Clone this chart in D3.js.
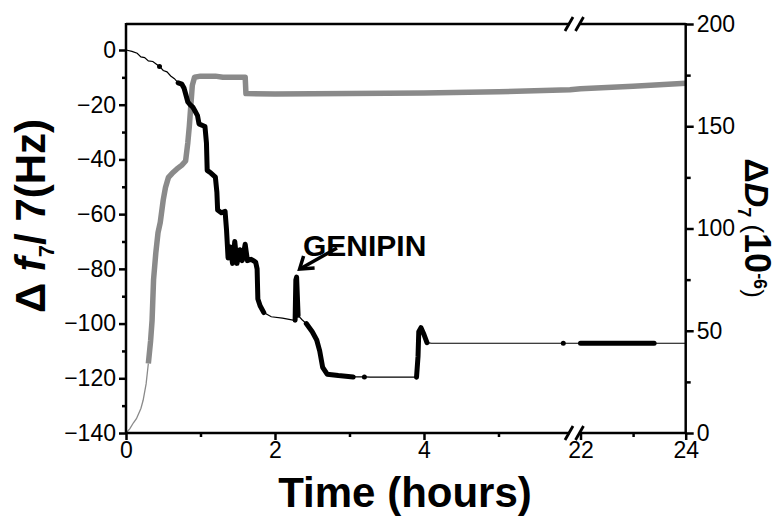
<!DOCTYPE html>
<html>
<head>
<meta charset="utf-8">
<script src="https://cdn.jsdelivr.net/npm/d3@7"></script>
<style>
  body { margin: 0; background: #fff; }
  text { font-family: "Liberation Sans", Arial, sans-serif; }
</style>
</head>
<body>
<svg></svg>
<script>
// frequency shift, black trace (hours, Hz)
let dfTime = [0, 0.08, 0.15, 0.2, 0.25, 0.3, 0.36, 0.4, 0.45, 0.5, 0.55, 0.6, 0.65, 0.7, 0.75, 0.78, 0.8, 0.83, 0.86, 0.9,
    0.93, 0.96, 0.98, 1.02, 1.06, 1.08, 1.09, 1.14, 1.2, 1.22, 1.23, 1.28, 1.33, 1.35, 1.37, 1.4, 1.43, 1.46, 1.49, 1.53,
    1.56, 1.6, 1.63, 1.68, 1.74, 1.76, 1.77, 1.8, 1.85, 1.95, 2.1, 2.26, 2.27, 2.28, 2.29, 2.31, 2.36, 2.42, 2.5, 2.56,
    2.6, 2.64, 2.7, 2.85, 3.05, 3.12, 3.2, 3.28, 3.9, 3.92, 3.93, 3.96, 4.0, 4.04, 4.1, 5.8, 5.87, 5.93, 21.95, 22, 23.4, 24];
let dfValue = [0, -0.5, -1.2, -2.5, -2.8, -4, -4.2, -5, -6, -7.5, -8, -9.5, -10.5, -12, -12.5, -14, -16, -19, -20, -21,
    -22.5, -24, -27, -27.5, -28, -34, -44, -45, -46.5, -52, -58.5, -59.5, -59, -66, -76, -72, -78, -70, -78, -73,
    -77, -71, -77, -76.5, -77.5, -80, -91, -93.5, -96, -97.5, -98, -98.8, -98.8, -84, -83, -97, -98.5, -100, -103, -106,
    -110, -116, -118.5, -119, -119.5, -119.5, -119.5, -119.6, -119.6, -112, -103, -101.5, -104, -107, -107.2, -107.2, -107.2,
    -107.2, -107.2, -107.2, -107.2, -107.2];
// stretches where the frequency points are dense
let dfDense = [[0.44, 0.46], [0.69, 1.85], [2.265, 2.315], [2.42, 3.05], [3.2, 3.2], [3.9, 4.04], [5.87, 5.87], [22, 23.4]];

// dissipation shift, grey trace (hours, 1e-6)
let ddTime = [0, 0.05, 0.1, 0.14, 0.2, 0.23, 0.27, 0.3, 0.33, 0.35, 0.37, 0.4, 0.43, 0.46, 0.5, 0.53, 0.57, 0.62, 0.68,
    0.75, 0.8, 0.83, 0.85, 0.87, 0.89, 0.92, 1.0, 1.2, 1.3, 1.6, 1.61, 2, 3, 4, 5, 5.96, 22, 23, 24];
let ddValue = [0, 2, 5, 7, 12, 16, 24, 34, 45, 55, 75, 88, 98, 103, 114, 120, 125, 127, 129,
    131, 133, 142, 150, 160, 170, 174, 174.5, 174.5, 174, 174, 166, 165.8, 166, 166.3, 166.9, 167.8, 168.3, 169.6, 171];
let ddDenseFrom = 0.28;

let xMajor = [0, 2, 4, 22, 24],
    xMinor = [1, 3, 5, 23],
    yMajor = [-140, -120, -100, -80, -60, -40, -20, 0],
    yMinor = [-130, -110, -90, -70, -50, -30, -10],
    y2Major = [0, 50, 100, 150, 200],
    y2Minor = [25, 75, 125, 175];

let svg = d3.select("svg").attr("width", 780).attr("height", 519),
    pLeft = 126, pRight = 685.7, pTop = 24, pBottom = 433,
    gapL = 570, gapR = 580.5;

// broken time axis: 0-6 h, then 22-24 h
let x = d3.scaleLinear().domain([0, 5.96, 22, 24]).range([pLeft, gapL, gapR, pRight]),
    y = d3.scaleLinear().domain([-140, 9.5]).range([pBottom, pTop]),
    y2 = d3.scaleLinear().domain([0, 200]).range([pBottom, pTop]);

let df = dfTime.map(function(t, i) { return {t: t, v: dfValue[i]}; }),
    dd = ddTime.map(function(t, i) { return {t: t, v: ddValue[i]}; });

function isDense(t) {
    return dfDense.some(function(r) { return t >= r[0] && t <= r[1]; });
}

let lineDf = d3.line().x(function(d) { return x(d.t); }).y(function(d) { return y(d.v); }),
    lineDd = d3.line().x(function(d) { return x(d.t); }).y(function(d) { return y2(d.v); });

// grey trace
svg.append("path").attr("d", lineDd(dd.filter(function(d) { return d.t <= ddDenseFrom + 0.02; })))
    .attr("fill", "none").attr("stroke", "#8a8a8a").attr("stroke-width", 1.3);
svg.append("path").attr("d", lineDd(dd.filter(function(d) { return d.t >= ddDenseFrom; })))
    .attr("fill", "none").attr("stroke", "#8a8a8a").attr("stroke-width", 5.5)
    .attr("stroke-linejoin", "round");

// black trace
svg.append("path").attr("d", lineDf(df))
    .attr("fill", "none").attr("stroke", "#000").attr("stroke-width", 1.2);
svg.append("path").attr("d", lineDf.defined(function(d) { return isDense(d.t); })(df))
    .attr("fill", "none").attr("stroke", "#000").attr("stroke-width", 5)
    .attr("stroke-linecap", "round").attr("stroke-linejoin", "round");

// axes
let axisFont = function(sel) {
    sel.selectAll("text").style("font-size", "23px").attr("fill", "#000");
    sel.selectAll("line").attr("stroke", "#000").attr("stroke-width", 2.5);
    sel.select(".domain").remove();
};

svg.append("g").attr("transform", "translate(" + pLeft + ",0)")
    .call(d3.axisLeft(y).tickValues(yMajor).tickSize(7).tickPadding(3)).call(axisFont);
svg.append("g").attr("transform", "translate(" + pLeft + ",0)")
    .call(d3.axisLeft(y).tickValues(yMinor).tickSize(4).tickFormat("")).call(axisFont);

svg.append("g").attr("transform", "translate(" + pRight + ",0)")
    .call(d3.axisRight(y2).tickValues(y2Major).tickSize(8).tickPadding(3)).call(axisFont);
svg.append("g").attr("transform", "translate(" + pRight + ",0)")
    .call(d3.axisRight(y2).tickValues(y2Minor).tickSize(5).tickFormat("")).call(axisFont);

svg.append("g").attr("transform", "translate(0," + pBottom + ")")
    .call(d3.axisBottom(x).tickValues(xMajor).tickSize(7).tickPadding(2)).call(axisFont);
svg.append("g").attr("transform", "translate(0," + pBottom + ")")
    .call(d3.axisBottom(x).tickValues(xMinor).tickSize(4).tickFormat("")).call(axisFont);

// frame with the axis break
let frame = svg.append("g").attr("stroke", "#000").attr("stroke-width", 2.5).attr("fill", "none");
frame.append("line").attr("x1", pLeft).attr("x2", pLeft).attr("y1", pTop - 1).attr("y2", pBottom + 1);
frame.append("line").attr("x1", pRight).attr("x2", pRight).attr("y1", pTop - 1).attr("y2", pBottom + 1);
[pTop, pBottom].forEach(function(yy) {
    frame.append("line").attr("x1", pLeft).attr("x2", gapL).attr("y1", yy).attr("y2", yy);
    frame.append("line").attr("x1", gapR - 1).attr("x2", pRight).attr("y1", yy).attr("y2", yy);
    [gapL - 1, gapR - 1].forEach(function(cx) {
        frame.append("line").attr("x1", cx - 4).attr("x2", cx + 4)
            .attr("y1", yy + 7).attr("y2", yy - 7).attr("stroke-width", 2.8);
    });
});

// axis titles
svg.append("text")
    .attr("x", 405).attr("y", 507)
    .attr("text-anchor", "middle")
    .style("font-size", "42px").style("font-weight", "bold")
    .text("Time (hours)");

let yTitle = svg.append("text")
    .attr("transform", "translate(45,216) rotate(-90)")
    .attr("text-anchor", "middle")
    .style("font-size", "42px").style("font-weight", "bold");
yTitle.append("tspan").text("\u0394 ");
yTitle.append("tspan").style("font-style", "italic").text("f");
yTitle.append("tspan").attr("dy", 9).style("font-size", "22px").text("7");
yTitle.append("tspan").attr("dy", -9).text("/ 7(Hz)");

let y2Title = svg.append("text")
    .attr("transform", "translate(745,228) rotate(90)")
    .attr("text-anchor", "middle")
    .style("font-size", "34px").style("font-weight", "bold");
y2Title.append("tspan").text("\u0394");
y2Title.append("tspan").style("font-style", "italic").text("D");
y2Title.append("tspan").attr("dy", 7).style("font-size", "18px").text("7");
y2Title.append("tspan").attr("dy", -7).style("font-size", "26px").style("font-weight", "normal").text(" (");
y2Title.append("tspan").style("font-size", "36px").text("10");
y2Title.append("tspan").attr("dy", -9).style("font-size", "18px").text("-6");
y2Title.append("tspan").attr("dy", 9).style("font-size", "26px").style("font-weight", "normal").text(")");

// annotation
svg.append("text")
    .attr("x", 303).attr("y", 256)
    .style("font-size", "30px").style("font-weight", "bold")
    .text("GENIPIN");
let arrowTip = [x(2.29) + 3, y(-83) - 8];
svg.append("line")
    .attr("x1", 337).attr("y1", 248)
    .attr("x2", arrowTip[0] + 2).attr("y2", arrowTip[1] - 1)
    .attr("stroke", "#000").attr("stroke-width", 3.5);
svg.append("path")
    .attr("d", "M" + (arrowTip[0] + 4) + "," + (arrowTip[1] - 13) + "L" + arrowTip[0] + "," + arrowTip[1] +
        "L" + (arrowTip[0] + 15) + "," + (arrowTip[1] - 1))
    .attr("fill", "none").attr("stroke", "#000").attr("stroke-width", 3.5);
</script>
</body>
</html>
